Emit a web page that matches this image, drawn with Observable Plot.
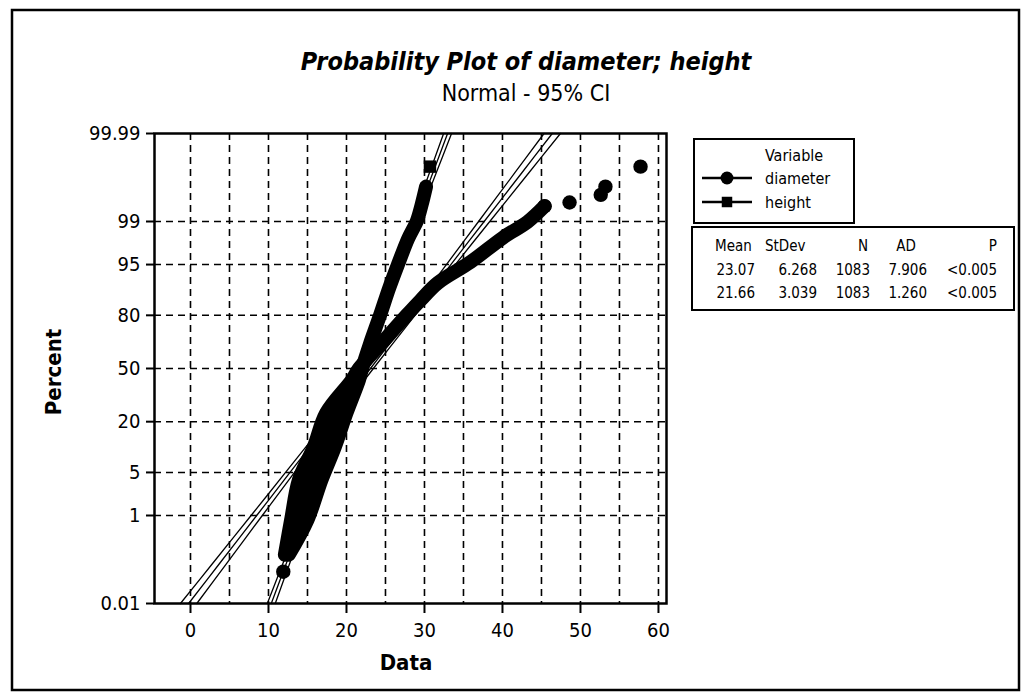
<!DOCTYPE html>
<html><head><meta charset="utf-8">
<script src="https://cdn.jsdelivr.net/npm/d3@7"></script>
<script src="https://cdn.jsdelivr.net/npm/@observablehq/plot@0.6"></script>
<style>
html,body{margin:0;padding:0;background:#fff;}
#chart{width:1028px;height:698px;}
</style></head><body><div id="chart"></div>
<script>
// ---------- data ----------
const seriesNames = ["diameter", "height"];
const seriesSymbols = ["circle", "square"];
const statMean = [23.07, 21.66];
const statStDev = [6.268, 3.039];
const statN = [1083, 1083];
const statAD = [7.906, 1.260];
const statP = ["<0.005", "<0.005"];
const statMeanTxt = ["23.07", "21.66"];
const statStDevTxt = ["6.268", "3.039"];
const statADTxt = ["7.906", "1.260"];

// dense band of plotted points, read along the band centre (value, percent)
const diameterPct   = [0.16, 0.83, 3.9, 10.7, 24.1, 42.8, 50, 65, 80, 86, 91.2, 95.4, 98.1, 98.98, 99.49];
const diameterValue = [12.1, 12.9, 13.9, 15.8, 17.4, 20.7, 21.6, 24.4, 27.7, 29.5, 31.7, 35.9, 40.1, 43.2, 45.4];
// separately visible diameter points
const diameterDotPct   = [0.065, 99.49, 99.57, 99.70, 99.80, 99.93];
const diameterDotValue = [11.9, 45.4, 48.6, 52.6, 53.2, 57.7];

const heightPct   = [0.16, 0.83, 3.9, 10.7, 24.1, 42.8, 50, 65, 80, 90, 95, 98, 99, 99.5, 99.8];
const heightValue = [12.6, 15.0, 16.8, 18.5, 20.0, 21.6, 22.0, 23.0, 24.3, 25.5, 26.6, 27.9, 29.0, 29.6, 30.2];
const heightDotPct   = [99.93];
const heightDotValue = [30.7];

// percent levels at which the fitted line and 95% CI are evaluated
const fitPct = [0.01, 0.1, 1, 5, 20, 50, 80, 95, 99, 99.9, 99.99];

// axes
const xDomain = [-4.615, 61.03];
const yDomainPct = [0.01, 99.99];
const xTickValues = [0, 10, 20, 30, 40, 50, 60];
const xGridValues = [0, 5, 10, 15, 20, 25, 30, 35, 40, 45, 50, 55, 60];
const yTickPct = [0.01, 1, 5, 20, 50, 80, 95, 99, 99.99];
const yTickLabels = ["0.01", "1", "5", "20", "50", "80", "95", "99", "99.99"];
const yGridPct = [1, 5, 20, 50, 80, 95, 99];

const titleText = "Probability Plot of diameter; height";
const subtitleText = "Normal - 95% CI";
const xLabel = "Data";
const yLabel = "Percent";
const legendTitle = "Variable";
const tableHeaders = ["Mean", "StDev", "N", "AD", "P"];

// ---------- helpers ----------
function probit(p) {
  const a=[-3.969683028665376e+01,2.209460984245205e+02,-2.759285104469687e+02,1.383577518672690e+02,-3.066479806614716e+01,2.506628277459239e+00];
  const b=[-5.447609879822406e+01,1.615858368580409e+02,-1.556989798598866e+02,6.680131188771972e+01,-1.328068155288572e+01];
  const c=[-7.784894002430293e-03,-3.223964580411365e-01,-2.400758277161838e+00,-2.549732539343734e+00,4.374664141464968e+00,2.938163982698783e+00];
  const d=[7.784695709041462e-03,3.224671290700398e-01,2.445134137142996e+00,3.754408661907416e+00];
  const pl = 0.02425, ph = 1 - pl;
  let q, r;
  if (p < pl) { q = Math.sqrt(-2*Math.log(p)); return (((((c[0]*q+c[1])*q+c[2])*q+c[3])*q+c[4])*q+c[5])/((((d[0]*q+d[1])*q+d[2])*q+d[3])*q+1); }
  if (p <= ph) { q = p - 0.5; r = q*q; return (((((a[0]*r+a[1])*r+a[2])*r+a[3])*r+a[4])*r+a[5])*q/(((((b[0]*r+b[1])*r+b[2])*r+b[3])*r+b[4])*r+1); }
  q = Math.sqrt(-2*Math.log(1-p)); return -(((((c[0]*q+c[1])*q+c[2])*q+c[3])*q+c[4])*q+c[5])/((((d[0]*q+d[1])*q+d[2])*q+d[3])*q+1);
}
const zOf = pct => probit(pct / 100);

const FONT = '"DejaVu Sans Condensed","Noto Sans","DejaVu Sans",sans-serif';

const pairs = (pcts, vals) => pcts.map((p, i) => ({p, v: vals[i]}));
const diamBand = pairs(diameterPct, diameterValue);
const diamDots = pairs(diameterDotPct, diameterDotValue);
const hBand = pairs(heightPct, heightValue);
const hDots = pairs(heightDotPct, heightDotValue);
// overlapping lower part: both series' points fill the space between them
const overlap = diameterPct
  .map((p, i) => ({p, d: diameterValue[i], h: heightValue[i], same: heightPct[i] === p}))
  .filter(r => r.same && r.p <= 50);

function fitRows(k) {
  return fitPct.map(p => {
    const z = zOf(p);
    const fit = statMean[k] + z * statStDev[k];
    const se = statStDev[k] / Math.sqrt(statN[k]) * Math.sqrt(1 + z * z / 2);
    return {p, fit, lo: fit - 1.96 * se, hi: fit + 1.96 * se};
  });
}
const fitD = fitRows(0), fitH = fitRows(1);

const yTickZ = yTickPct.map(zOf);
const labelMap = new Map(yTickZ.map((z, i) => [z, yTickLabels[i]]));

const gridStyle = {stroke: "black", strokeOpacity: 1, strokeWidth: 1.6, strokeDasharray: "7,5"};
const thin = {stroke: "black", strokeWidth: 1.3, curve: "catmull-rom"};
const band = {stroke: "black", strokeWidth: 14, strokeLinecap: "round", strokeLinejoin: "round", curve: "catmull-rom"};
const Y = d => zOf(d.p);

const svg = Plot.plot({
  width: 1028, height: 698,
  marginLeft: 154, marginRight: 362, marginTop: 133, marginBottom: 95,
  style: {fontFamily: FONT, background: "white", color: "black"},
  x: {domain: xDomain},
  y: {domain: yDomainPct.map(zOf)},
  marks: [
    Plot.gridX(xGridValues, gridStyle),
    Plot.gridY(yGridPct.map(zOf), gridStyle),
    ...[fitD, fitH].flatMap(f => [
      Plot.line(f, {x: "lo", y: Y, ...thin}),
      Plot.line(f, {x: "fit", y: Y, ...thin}),
      Plot.line(f, {x: "hi", y: Y, ...thin})
    ]),
    Plot.areaX(overlap, {y: Y, x1: "d", x2: "h", fill: "black", curve: "catmull-rom"}),
    Plot.line(diamBand, {x: "v", y: Y, ...band}),
    Plot.line(hBand, {x: "v", y: Y, ...band}),
    Plot.dot(diamDots, {x: "v", y: Y, r: 7.2, fill: "black", symbol: "circle"}),
    Plot.dot(hDots, {x: "v", y: Y, r: 7, fill: "black", symbol: "square"}),
    Plot.frame({stroke: "black", strokeWidth: 2.5}),
    Plot.axisX(xTickValues, {tickSize: 10, tickPadding: 9, fontSize: 20, strokeWidth: 2, label: null}),
    Plot.axisY(yTickZ, {tickSize: 8, tickPadding: 6, fontSize: 20, strokeWidth: 2, label: null, tickFormat: z => labelMap.get(z)})
  ]
});
document.getElementById("chart").appendChild(svg);

// ---------- annotations (titles, legend, table) ----------
const s = d3.select(svg);
const txt = (sel, t, x, y, anchor, size, extra = {}) => {
  const e = sel.append("text").text(t).attr("x", x).attr("y", y).attr("text-anchor", anchor)
    .attr("font-family", FONT).attr("font-size", size).attr("fill", "black");
  Object.entries(extra).forEach(([k, v]) => e.attr(k, v));
  return e;
};

s.append("rect").attr("x", 12).attr("y", 10).attr("width", 1007).attr("height", 680)
  .attr("fill", "none").attr("stroke", "black").attr("stroke-width", 2.5);

txt(s, titleText, 526, 70, "middle", 25, {"font-weight": "bold", "font-style": "italic"});
txt(s, subtitleText, 526, 101, "middle", 23);

txt(s, yLabel, 0, 0, "middle", 22, {"font-weight": "bold", "dominant-baseline": "middle", transform: "translate(55,372) rotate(-90)"});
txt(s, xLabel, 406, 670, "middle", 22, {"font-weight": "bold"});

// legend
const lg = s.append("g");
lg.append("rect").attr("x", 694).attr("y", 139).attr("width", 160).attr("height", 84)
  .attr("fill", "white").attr("stroke", "black").attr("stroke-width", 2);
txt(lg, legendTitle, 765, 161, "start", 16);
seriesNames.forEach((name, i) => {
  const yy = 178 + i * 24;
  lg.append("line").attr("x1", 702).attr("x2", 752).attr("y1", yy).attr("y2", yy).attr("stroke", "black").attr("stroke-width", 2.5);
  const sym = seriesSymbols[i] === "circle" ? d3.symbolCircle : d3.symbolSquare;
  lg.append("path").attr("d", d3.symbol(sym, i === 0 ? 130 : 110)()).attr("transform", `translate(727,${yy})`).attr("fill", "black");
  txt(lg, name, 765, yy + 6, "start", 16);
});

// statistics table
const tb = s.append("g");
tb.append("rect").attr("x", 692).attr("y", 227).attr("width", 322).attr("height", 83)
  .attr("fill", "white").attr("stroke", "black").attr("stroke-width", 2);
const hdrPos = [[715, "start"], [765, "start"], [868, "end"], [906, "middle"], [997, "end"]];
tableHeaders.forEach((h, j) => txt(tb, h, hdrPos[j][0], 251, hdrPos[j][1], 15));
const colRight = [755, 817, 870, 927, 997];
seriesNames.forEach((n, i) => {
  const row = [statMeanTxt[i], statStDevTxt[i], String(statN[i]), statADTxt[i], statP[i]];
  row.forEach((t, j) => txt(tb, t, colRight[j], 275 + i * 23, "end", 15));
});
</script>
</body></html>
